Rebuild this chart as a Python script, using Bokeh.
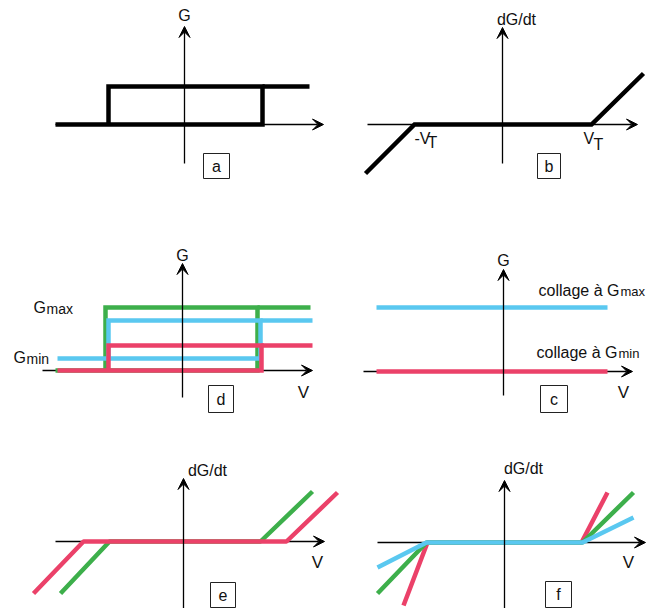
from bokeh.plotting import figure
from bokeh.models import Range1d, Arrow, VeeHead
from bokeh.core.properties import value
from bokeh.embed import file_html
from bokeh.resources import INLINE

FONT = value("Liberation Sans")
BLACK = "#000000"
TXT = "#111111"
GREEN = "#3daf4b"
BLUE = "#5ac8f0"
RED = "#eb4169"

# ---------- axes (x_start, y_start, x_end, y_end) ----------
h_axes = [  # horizontal axes (drawn under the curves)
    (55, 124, 323, 124),   # a
    (367, 124, 637, 124),  # b
    (42, 370, 312, 370),   # d
    (363, 371, 632, 371),  # c
    (55, 541, 324, 541),   # e
    (377, 542, 645, 542),  # f
]
v_axes = [  # vertical axes (drawn over the curves)
    (184, 163, 184, 26),
    (502, 163, 502, 27),
    (182, 397, 182, 263),
    (503, 395, 503, 269),
    (183, 616, 183, 478),
    (504, 616, 504, 480),
]

# ---------- curves ----------
a_x = [55, 262, 262, 108, 108, 262]
a_y = [124, 124, 86, 86, 124, 124]
a_top_x = [262, 309]
a_top_y = [86, 86]

b_x = [365, 414, 591, 643]
b_y = [173, 124, 124, 73]

d_green_x = [55, 257, 257, 105, 105, 257]
d_green_y = [370, 370, 307, 307, 370, 370]
d_green_tail_x = [257, 310]
d_green_tail_y = [307, 307]
d_blue_x = [57, 260, 260, 108, 108, 260]
d_blue_y = [358, 358, 320, 320, 358, 358]
d_blue_tail_x = [260, 312]
d_blue_tail_y = [320, 320]
d_red_x = [57, 261, 261, 108, 108, 261]
d_red_y = [370, 370, 345, 345, 370, 370]
d_red_tail_x = [261, 312]
d_red_tail_y = [345, 345]

c_blue_x = [376, 607]
c_blue_y = [307, 307]
c_red_x = [376, 607]
c_red_y = [371, 371]

e_green_x = [60, 109, 260, 312]
e_green_y = [593, 541, 541, 491]
e_red_x = [33, 83, 286, 337]
e_red_y = [593, 541, 541, 492]

f_red_x = [403, 427, 581, 607]
f_red_y = [605, 542, 542, 492]
f_green_x = [377, 426, 582, 633]
f_green_y = [593, 542, 542, 492]
f_blue_x = [377, 426, 582, 633]
f_blue_y = [567, 542, 542, 517]

# ---------- panel boxes (left, right, top, bottom) and letters ----------
box_left = [203, 537, 208, 540, 210, 545]
box_right = [229, 560, 233, 567, 235, 571]
box_top = [153, 153, 385, 385, 582, 581]
box_bottom = [178, 178, 412, 412, 607, 607]
box_letters = ["a", "b", "d", "c", "e", "f"]

# ---------- labels ----------
axis_lbl_x = [184, 516, 182, 503, 207, 523]
axis_lbl_y = [15, 19, 255, 260, 470, 468]
axis_lbl_t = ["G", "dG/dt", "G", "G", "dG/dt", "dG/dt"]

v_lbl_x = [303, 623, 317, 628]
v_lbl_y = [392, 392, 562, 562]

p = figure(width=647, height=608, x_range=Range1d(0, 647), y_range=Range1d(608, 0),
           output_backend="svg", toolbar_location=None, min_border=0)
p.axis.visible = False
p.grid.visible = False
p.outline_line_color = None
p.background_fill_color = "white"

# horizontal axes, below curves
for (x0, y0, x1, y1) in h_axes:
    p.add_layout(Arrow(x_start=x0, y_start=y0, x_end=x1, y_end=y1, line_width=1.3,
                       line_color=BLACK, level="underlay",
                       end=VeeHead(size=11, fill_color=BLACK, line_color=BLACK, line_width=1)))

LW = 4.5
# a
p.line(a_x, a_y, line_width=LW, line_color=BLACK, line_join="miter")
p.line(a_top_x, a_top_y, line_width=LW, line_color=BLACK)
# b
p.line(b_x, b_y, line_width=LW, line_color=BLACK, line_join="miter")
# d
p.line(d_green_x, d_green_y, line_width=LW, line_color=GREEN, line_join="miter")
p.line(d_green_tail_x, d_green_tail_y, line_width=LW, line_color=GREEN)
p.line(d_blue_x, d_blue_y, line_width=LW, line_color=BLUE, line_join="miter")
p.line(d_blue_tail_x, d_blue_tail_y, line_width=LW, line_color=BLUE)
p.line(d_red_x, d_red_y, line_width=LW, line_color=RED, line_join="miter")
p.line(d_red_tail_x, d_red_tail_y, line_width=LW, line_color=RED)
# c
p.line(c_blue_x, c_blue_y, line_width=LW, line_color=BLUE)
p.line(c_red_x, c_red_y, line_width=LW, line_color=RED)
# e
p.line(e_green_x, e_green_y, line_width=LW, line_color=GREEN)
p.line(e_red_x, e_red_y, line_width=LW, line_color=RED)
# f
p.line(f_red_x, f_red_y, line_width=LW, line_color=RED)
p.line(f_green_x, f_green_y, line_width=LW, line_color=GREEN)
p.line(f_blue_x, f_blue_y, line_width=LW, line_color=BLUE)

# vertical axes on top
for (x0, y0, x1, y1) in v_axes:
    p.add_layout(Arrow(x_start=x0, y_start=y0, x_end=x1, y_end=y1, line_width=1.3,
                       line_color=BLACK,
                       end=VeeHead(size=11, fill_color=BLACK, line_color=BLACK, line_width=1)))

# panel boxes
p.quad(left=box_left, right=box_right, top=box_top, bottom=box_bottom,
       fill_color="white", line_color="#222222", line_width=1)
p.text(x=[(l + r) / 2 for l, r in zip(box_left, box_right)],
       y=[(t + b) / 2 for t, b in zip(box_top, box_bottom)],
       text=box_letters, text_align="center", text_baseline="middle",
       text_font=FONT, text_font_size="16px", text_color=TXT)

# axis labels
p.text(x=axis_lbl_x, y=axis_lbl_y, text=axis_lbl_t, text_align="center",
       text_baseline="middle", text_font=FONT, text_font_size="16px", text_color=TXT)
p.text(x=v_lbl_x, y=v_lbl_y, text=["V"] * len(v_lbl_x), text_align="center",
       text_baseline="middle", text_font=FONT, text_font_size="17px", text_color=TXT)

# threshold labels
p.text(x=[414, 583], y=[137.5, 137.5], text=["-V", "V"], text_align="left",
       text_baseline="middle", text_font=FONT, text_font_size="16px", text_color=TXT)
p.text(x=[427, 593], y=[142, 144], text=["T", "T"], text_align="left",
       text_baseline="middle", text_font=FONT, text_font_size="16px", text_color=TXT)

# Gmax / Gmin in d
p.text(x=[33, 13], y=[307, 357], text=["G", "G"], text_align="left",
       text_baseline="middle", text_font=FONT, text_font_size="16px", text_color=TXT)
p.text(x=[46, 26], y=[308, 358], text=["max", "min"], text_align="left",
       text_baseline="middle", text_font=FONT, text_font_size="14px", text_color=TXT)

# collage labels in c
p.text(x=[538, 536], y=[290, 352], text=["collage à G", "collage à G"], text_align="left",
       text_baseline="middle", text_font=FONT, text_font_size="16px", text_color=TXT)
p.text(x=[620, 618], y=[291, 353], text=["max", "min"], text_align="left",
       text_baseline="middle", text_font=FONT, text_font_size="13px", text_color=TXT)

open("out.html", "w").write(file_html(p, INLINE))
